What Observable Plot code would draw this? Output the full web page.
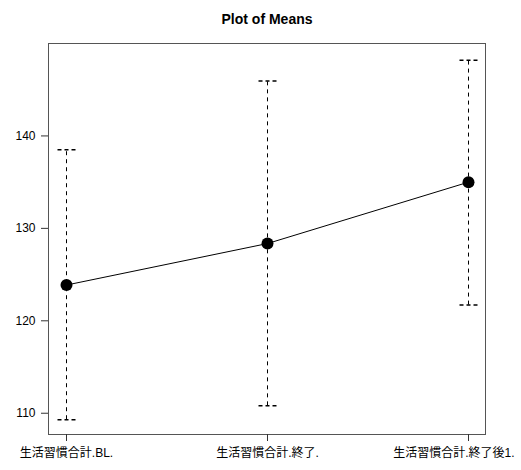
<!DOCTYPE html>
<html>
<head>
<meta charset="utf-8">
<script src="https://cdn.jsdelivr.net/npm/d3@7"></script>
<script src="https://cdn.jsdelivr.net/npm/@observablehq/plot@0.6"></script>
<style>
  html, body { margin: 0; padding: 0; background: #fff; }
</style>
</head>
<body>
<div id="chart"></div>
<script>
const title = "Plot of Means";
const groups = ["生活習慣合計.BL.", "生活習慣合計.終了.", "生活習慣合計.終了後1."];
const means = [123.87, 128.36, 135.0];
const lower = [109.3, 110.8, 121.7];
const upper = [138.5, 145.95, 148.2];
const yTicks = [110, 120, 130, 140];

const data = groups.map((g, i) => ({group: g, mean: means[i], lo: lower[i], hi: upper[i]}));

const fontFamily = "'Liberation Sans', Arial, 'Noto Sans CJK JP', sans-serif";

// horizontal cap symbol for the error bars
const capSymbol = {draw(context) { context.moveTo(-9, 0); context.lineTo(9, 0); }};

const chart = Plot.plot({
  width: 521,
  height: 470,
  marginTop: 43,
  marginBottom: 36,
  marginLeft: 48,
  marginRight: 36,
  style: {fontFamily, fontSize: "12px", color: "#000", background: "#fff"},
  x: {type: "point", domain: groups, padding: 0.082, axis: null},
  y: {domain: [107.7, 150], axis: null},
  marks: [
    Plot.frame({stroke: "#555"}),
    Plot.axisY({ticks: yTicks, tickSize: 7, tickPadding: 6, fontSize: 12, stroke: "#333", strokeOpacity: 1, label: null}),
    // x tick lines only
    Plot.axisX({ticks: groups, tickSize: 7, tickFormat: () => "", stroke: "#333", strokeOpacity: 1, label: null}),
    // x tick labels
    Plot.axisX({ticks: groups.slice(0, 2), tickSize: 0, tickPadding: 14, fontSize: 12, label: null}),
    Plot.axisX({ticks: groups.slice(2), tickSize: 0, tickPadding: 14, fontSize: 12, label: null, textAnchor: "end", dx: 46}),
    Plot.ruleX(data, {x: "group", y1: "lo", y2: "hi", stroke: "#000", strokeDasharray: "4,4"}),
    Plot.dot(data, {x: "group", y: "lo", symbol: capSymbol, fill: "none", stroke: "#000", strokeDasharray: "4,3"}),
    Plot.dot(data, {x: "group", y: "hi", symbol: capSymbol, fill: "none", stroke: "#000", strokeDasharray: "4,3"}),
    Plot.line(data, {x: "group", y: "mean", stroke: "#000", strokeWidth: 1}),
    Plot.dot(data, {x: "group", y: "mean", r: 6, fill: "#000", stroke: "none"}),
    Plot.text([title], {frameAnchor: "top", dy: -29, fontWeight: "bold", fontSize: 14, fill: "#000"})
  ]
});

document.getElementById("chart").appendChild(chart);
</script>
</body>
</html>
